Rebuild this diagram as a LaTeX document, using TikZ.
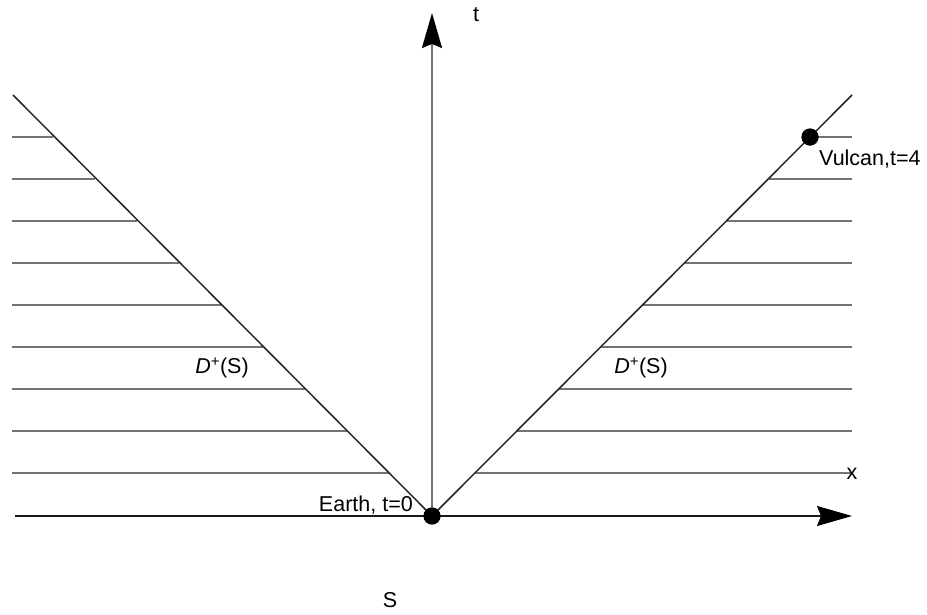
\documentclass[tikz,border=0pt]{standalone}
\usepackage{fontspec}
\setmainfont{Liberation Sans}
\usetikzlibrary{arrows.meta}
\begin{document}
\begin{tikzpicture}[x=1pt,y=-1pt,
  lbl/.style={font=\fontsize{21.5}{26}\selectfont, inner sep=0pt},
  hatch/.style={draw=black!55, line width=2pt},
  cone/.style={draw=black!85, line width=1.5pt},
  axisline/.style={line width=1.5pt, -{Stealth[length=35pt,width=20pt,inset=4pt,color=black]}},
  dot/.style={circle, fill=black, inner sep=0pt, minimum size=17pt}]
\useasboundingbox (0,0) rectangle (927,614);
\fill[white] (0,0) rectangle (927,614);
% hatch lines
\foreach \y in {137,179,221,263,305,347,389,431,473}{
  \draw[hatch] (12,\y) -- ({432-(516-\y)},\y);
  \draw[hatch] ({432+(516-\y)},\y) -- (852,\y);
}
\coordinate (L) at (13,95);
\coordinate (R) at (852,95);
\coordinate (xs) at (15,516);
\coordinate (xe) at (852,516);
\coordinate (te) at (432,13);
\node[dot] (O) at (432,516) {};
\node[dot] (V) at (810,137) {};
\draw[cone] (O.center) -- (L);
\draw[cone] (O.center) -- (R);
\draw[axisline, draw=black!90] (xs) -- (xe);
\draw[axisline, draw=black!55, line width=2pt] (O.center) -- (te);
\node[dot] at (O) {};
\node[dot] at (V) {};
% labels
\node[lbl] (tl) at (476,15) {t};
\node[lbl] (xl) at (852,474) {x};
\node[lbl, anchor=west] (vl) at (819,159) {Vulcan,t=4};
\node[lbl, anchor=east] (el) at (413,505) {Earth, t=0};
\node[lbl] (d1) at (222,368) {\textit{D}\textsuperscript{+}(S)};
\node[lbl] (d2) at (641,368) {\textit{D}\textsuperscript{+}(S)};
\node[lbl] (sl) at (390,600) {S};
\end{tikzpicture}
\end{document}
